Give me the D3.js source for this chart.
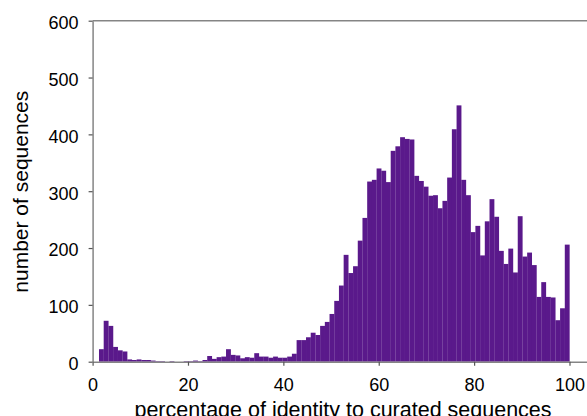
<!DOCTYPE html>
<html>
<head>
<meta charset="utf-8">
<script src="https://cdn.jsdelivr.net/npm/d3@7"></script>
<style>
  html, body { margin: 0; padding: 0; background: #fff; }
  svg { display: block; }
  text { font-family: "Liberation Sans", Arial, sans-serif; fill: #000; }
</style>
</head>
<body>
<svg id="chart" width="587" height="416"></svg>
<script>
// ---- data ----
const identity = d3.range(1, 101); // percentage-identity bins
const counts = [
  22, 72, 63, 26, 20, 18, 4, 3, 4, 3,
  3, 2, 1, 1, 0, 1, 0, 0, 1, 1,
  2, 1, 3, 10, 5, 8, 9, 22, 12, 11,
  6, 8, 7, 15, 9, 9, 7, 9, 7, 7,
  9, 14, 38, 38, 43, 51, 47, 63, 70, 84,
  107, 134, 188, 156, 168, 213, 253, 317, 320, 340,
  336, 316, 371, 379, 395, 392, 391, 327, 318, 308,
  292, 293, 270, 283, 324, 409, 451, 320, 293, 228,
  239, 187, 247, 286, 255, 195, 172, 199, 157, 256,
  185, 192, 170, 114, 140, 114, 113, 73, 94, 206
];
const xTicks = [0, 20, 40, 60, 80, 100];
const yTicks = [0, 100, 200, 300, 400, 500, 600];
const xLabel = "percentage of identity to curated sequences";
const yLabel = "number of sequences";

// ---- layout ----
const W = 587, H = 416;
const mLeft = 92.6, mTop = 20.7, mBottom = 361.7;
const xMax = 103.67;       // axis runs past 100 to the window edge
const binLo = 1.34, binHi = 100;
const barColor = "#5a198b";
const axisColor = "#858585";

const svg = d3.select("#chart");

const x = d3.scaleLinear().domain([0, xMax]).range([mLeft, W]);
const y = d3.scaleLinear().domain([0, 600]).range([mBottom, mTop]);
const band = d3.scaleBand().domain(identity).range([x(binLo), x(binHi)]).paddingInner(0).paddingOuter(0);

// bars
svg.append("g")
  .selectAll("rect")
  .data(identity.map((d, i) => ({ k: d, v: counts[i] })))
  .join("rect")
  .attr("x", d => band(d.k))
  .attr("width", band.bandwidth() + 0.15)
  .attr("y", d => y(d.v))
  .attr("height", d => y(0) - y(d.v))
  .attr("fill", barColor);

// top frame line
svg.append("line")
  .attr("x1", x(0)).attr("x2", W)
  .attr("y1", y(600)).attr("y2", y(600))
  .attr("stroke", axisColor).attr("stroke-width", 1.5);

// x axis
const gx = svg.append("g")
  .attr("transform", `translate(0,${mBottom})`)
  .call(d3.axisBottom(x).tickValues(xTicks).tickFormat(d3.format("d"))
        .tickSizeInner(4).tickSizeOuter(0).tickPadding(13));
gx.select(".domain").attr("stroke", axisColor).attr("stroke-width", 1.5);
gx.selectAll(".tick line").attr("stroke", "#555").attr("stroke-width", 1.2);
gx.selectAll(".tick text").attr("font-size", 18)
  .style("font-family", '"Liberation Sans", Arial, sans-serif').attr("fill", "#000");

// y axis
const gy = svg.append("g")
  .attr("transform", `translate(${mLeft},0)`)
  .call(d3.axisLeft(y).tickValues(yTicks).tickFormat(d3.format("d"))
        .tickSizeInner(4).tickSizeOuter(0).tickPadding(10));
gy.select(".domain").attr("stroke", axisColor).attr("stroke-width", 1.5);
gy.selectAll(".tick line").attr("stroke", "#555").attr("stroke-width", 1.2);
gy.selectAll(".tick text").attr("font-size", 18).attr("dy", "0.44em")
  .style("font-family", '"Liberation Sans", Arial, sans-serif').attr("fill", "#000");

// axis titles
svg.append("text")
  .attr("x", 343).attr("y", 416.5)
  .attr("text-anchor", "middle")
  .attr("font-size", 21.5)
  .text(xLabel);

svg.append("text")
  .attr("transform", `translate(28,${(mTop + mBottom) / 2 + 0.5}) rotate(-90)`)
  .attr("text-anchor", "middle")
  .attr("font-size", 21)
  .text(yLabel);
</script>
</body>
</html>
